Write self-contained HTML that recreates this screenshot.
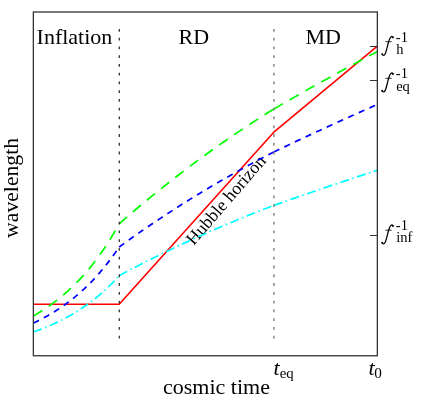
<!DOCTYPE html>
<html><head><meta charset="utf-8"><title>Hubble horizon</title>
<style>
html,body{margin:0;padding:0;background:#fff;overflow:hidden;}
svg{display:block;will-change:transform;}
text{font-family:"Liberation Serif",serif;fill:#000;}
.it{font-style:italic;}
</style></head>
<body>
<svg width="436" height="405" viewBox="0 0 436 405">
<rect x="0" y="0" width="436" height="405" fill="#ffffff"/>
<!-- curves -->
<text transform="translate(193.7,246.1) rotate(-49.2)" font-size="17.9">Hubble horizon</text>
<path d="M33.35,304.2 L119.2,304.2 L273.8,132.2 L377.35,46.15" fill="none" stroke="#ff0000" stroke-width="1.6" stroke-linejoin="round"/>
<path d="M33.35,332.04 L36.31,331.00 L39.27,329.91 L42.23,328.77 L45.19,327.60 L48.15,326.37 L51.11,325.09 L54.07,323.76 L57.03,322.37 L59.99,320.93 L62.95,319.43 L65.91,317.87 L68.87,316.24 L71.83,314.54 L74.79,312.78 L77.76,310.94 L80.72,309.03 L83.68,307.04 L86.64,304.97 L89.60,302.81 L92.56,300.56 L95.52,298.22 L98.48,295.79 L101.44,293.25 L104.40,290.61 L107.36,287.87 L110.32,285.01 L113.28,282.03 L116.24,278.93 L119.20,275.70" fill="none" stroke="#00ffff" stroke-width="1.7" stroke-dasharray="9 3.55 1.5 3.55"/>
<path d="M119.20,275.70 L124.53,272.85 L129.86,270.03 L135.19,267.24 L140.52,264.49 L145.86,261.77 L151.19,259.08 L156.52,256.42 L161.85,253.80 L167.18,251.21 L172.51,248.65 L177.84,246.12 L183.17,243.62 L188.50,241.15 L193.83,238.71 L199.17,236.30 L204.50,233.91 L209.83,231.56 L215.16,229.24 L220.49,226.94 L225.82,224.67 L231.15,222.43 L236.48,220.21 L241.81,218.02 L247.14,215.86 L252.48,213.72 L257.81,211.61 L263.14,209.52 L268.47,207.46 L273.80,205.42" fill="none" stroke="#00ffff" stroke-width="1.7" stroke-dasharray="9 3.55 1.5 3.55"/>
<path d="M273.80,205.42 L277.37,204.15 L280.94,202.89 L284.51,201.63 L288.08,200.38 L291.65,199.13 L295.22,197.88 L298.79,196.64 L302.37,195.40 L305.94,194.17 L309.51,192.94 L313.08,191.71 L316.65,190.49 L320.22,189.27 L323.79,188.05 L327.36,186.84 L330.93,185.63 L334.50,184.43 L338.07,183.23 L341.64,182.03 L345.21,180.84 L348.78,179.65 L352.36,178.46 L355.93,177.28 L359.50,176.10 L363.07,174.93 L366.64,173.76 L370.21,172.59 L373.78,171.43 L377.35,170.27" fill="none" stroke="#00ffff" stroke-width="1.7" stroke-dasharray="9 3.55 1.5 3.55"/>
<path d="M33.35,323.10 L36.31,321.68 L39.27,320.21 L42.23,318.68 L45.19,317.09 L48.15,315.43 L51.11,313.70 L54.07,311.91 L57.03,310.03 L59.99,308.08 L62.95,306.06 L65.91,303.94 L68.87,301.74 L71.83,299.45 L74.79,297.07 L77.76,294.59 L80.72,292.00 L83.68,289.31 L86.64,286.51 L89.60,283.60 L92.56,280.56 L95.52,277.40 L98.48,274.11 L101.44,270.68 L104.40,267.12 L107.36,263.40 L110.32,259.54 L113.28,255.51 L116.24,251.32 L119.20,246.96" fill="none" stroke="#0000ff" stroke-width="1.7" stroke-dasharray="6.2 5.5"/>
<path d="M119.20,246.96 L124.53,243.11 L129.86,239.30 L135.19,235.53 L140.52,231.81 L145.86,228.14 L151.19,224.50 L156.52,220.92 L161.85,217.37 L167.18,213.87 L172.51,210.41 L177.84,206.99 L183.17,203.61 L188.50,200.27 L193.83,196.98 L199.17,193.72 L204.50,190.50 L209.83,187.32 L215.16,184.18 L220.49,181.07 L225.82,178.00 L231.15,174.97 L236.48,171.98 L241.81,169.02 L247.14,166.10 L252.48,163.21 L257.81,160.35 L263.14,157.53 L268.47,154.74 L273.80,151.99" fill="none" stroke="#0000ff" stroke-width="1.7" stroke-dasharray="6.2 5.5"/>
<path d="M273.80,151.99 L277.37,150.28 L280.94,148.58 L284.51,146.88 L288.08,145.18 L291.65,143.49 L295.22,141.81 L298.79,140.13 L302.37,138.46 L305.94,136.79 L309.51,135.12 L313.08,133.47 L316.65,131.81 L320.22,130.16 L323.79,128.52 L327.36,126.88 L330.93,125.25 L334.50,123.62 L338.07,122.00 L341.64,120.39 L345.21,118.77 L348.78,117.17 L352.36,115.57 L355.93,113.97 L359.50,112.38 L363.07,110.79 L366.64,109.21 L370.21,107.63 L373.78,106.06 L377.35,104.50" fill="none" stroke="#0000ff" stroke-width="1.7" stroke-dasharray="6.2 5.5"/>
<path d="M33.35,315.90 L36.31,314.19 L39.27,312.41 L42.23,310.56 L45.19,308.64 L48.15,306.63 L51.11,304.54 L54.07,302.37 L57.03,300.10 L59.99,297.75 L62.95,295.29 L65.91,292.74 L68.87,290.08 L71.83,287.31 L74.79,284.43 L77.76,281.43 L80.72,278.30 L83.68,275.05 L86.64,271.66 L89.60,268.14 L92.56,264.47 L95.52,260.64 L98.48,256.67 L101.44,252.52 L104.40,248.21 L107.36,243.72 L110.32,239.05 L113.28,234.18 L116.24,229.11 L119.20,223.84" fill="none" stroke="#00ff00" stroke-width="1.7" stroke-dasharray="10.5 7.7"/>
<path d="M119.20,223.84 L124.53,219.18 L129.86,214.57 L135.19,210.02 L140.52,205.52 L145.86,201.07 L151.19,196.68 L156.52,192.34 L161.85,188.06 L167.18,183.82 L172.51,179.64 L177.84,175.50 L183.17,171.42 L188.50,167.38 L193.83,163.40 L199.17,159.46 L204.50,155.56 L209.83,151.72 L215.16,147.92 L220.49,144.16 L225.82,140.46 L231.15,136.79 L236.48,133.17 L241.81,129.59 L247.14,126.06 L252.48,122.56 L257.81,119.11 L263.14,115.70 L268.47,112.33 L273.80,109.00" fill="none" stroke="#00ff00" stroke-width="1.7" stroke-dasharray="10.5 7.7"/>
<path d="M273.80,109.00 L277.37,106.93 L280.94,104.87 L284.51,102.82 L288.08,100.77 L291.65,98.72 L295.22,96.69 L298.79,94.66 L302.37,92.63 L305.94,90.62 L309.51,88.60 L313.08,86.60 L316.65,84.60 L320.22,82.61 L323.79,80.62 L327.36,78.64 L330.93,76.67 L334.50,74.70 L338.07,72.74 L341.64,70.78 L345.21,68.83 L348.78,66.89 L352.36,64.95 L355.93,63.02 L359.50,61.10 L363.07,59.18 L366.64,57.27 L370.21,55.37 L373.78,53.47 L377.35,51.57" fill="none" stroke="#00ff00" stroke-width="1.7" stroke-dasharray="10.5 7.7"/>
<!-- dotted verticals -->
<line x1="119.3" y1="28.9" x2="119.3" y2="338.6" stroke="#333" stroke-width="1.3" stroke-dasharray="2.8 5.966"/>
<line x1="273.9" y1="28.9" x2="273.9" y2="338.6" stroke="#808080" stroke-width="1.45" stroke-dasharray="2.8 5.966"/>
<!-- frame -->
<rect x="33.35" y="12" width="344" height="343.75" fill="none" stroke="#333" stroke-width="1.3"/>
<!-- ticks -->
<path d="M370,46.5 H377 M370,80.5 H377 M370,235.5 H377" stroke="#333" stroke-width="1" fill="none"/>
<!-- region labels -->
<text x="36.6" y="44.2" font-size="22">Inflation</text>
<text x="178.6" y="44.2" font-size="22">RD</text>
<text x="305.5" y="43.8" font-size="22">MD</text>
<!-- axis labels -->
<text x="163" y="393.8" font-size="22">cosmic time</text>
<text transform="translate(17.5,237.9) rotate(-90)" font-size="21.7">wavelength</text>
<!-- t labels -->
<text x="273.5" y="375.0" font-size="22" class="it">t</text>
<text x="279.7" y="377.6" font-size="14.8">eq</text>
<text x="368.5" y="375.0" font-size="22" class="it">t</text>
<text x="374.2" y="377.7" font-size="15.2">0</text>
<!-- f labels -->
<defs>
<g id="fglyph">
<path d="M382.1,54.3 C382.6,55.6 384.1,56.0 385.1,54.0 C386.3,51.6 386.9,48.4 388.0,44.0 C389.0,40.0 389.8,36.4 392.0,36.3 C392.6,36.3 392.9,36.8 393.0,37.3" fill="none" stroke="#000" stroke-width="1.25" stroke-linecap="round" stroke-linejoin="round"/>
<circle cx="382.2" cy="54.1" r="0.95" fill="#000"/>
<circle cx="392.9" cy="37.4" r="0.95" fill="#000"/>
<path d="M385.3,41.7 H391.7" stroke="#000" stroke-width="0.8" fill="none"/>
</g>
</defs>
<g id="fh"><use href="#fglyph"/><text x="395.8" y="41.5" font-size="14.5">-1</text><text x="396.2" y="53.6" font-size="14.5">h</text></g>
<g id="feq"><use href="#fglyph" y="36.6"/><text x="395.8" y="78.4" font-size="14.5">-1</text><text x="396.2" y="90.7" font-size="14.5">eq</text></g>
<g id="finf"><use href="#fglyph" y="188.5"/><text x="395.8" y="229.5" font-size="14.5">-1</text><text x="396.2" y="241.5" font-size="14.5">inf</text></g>
</svg>
</body></html>
